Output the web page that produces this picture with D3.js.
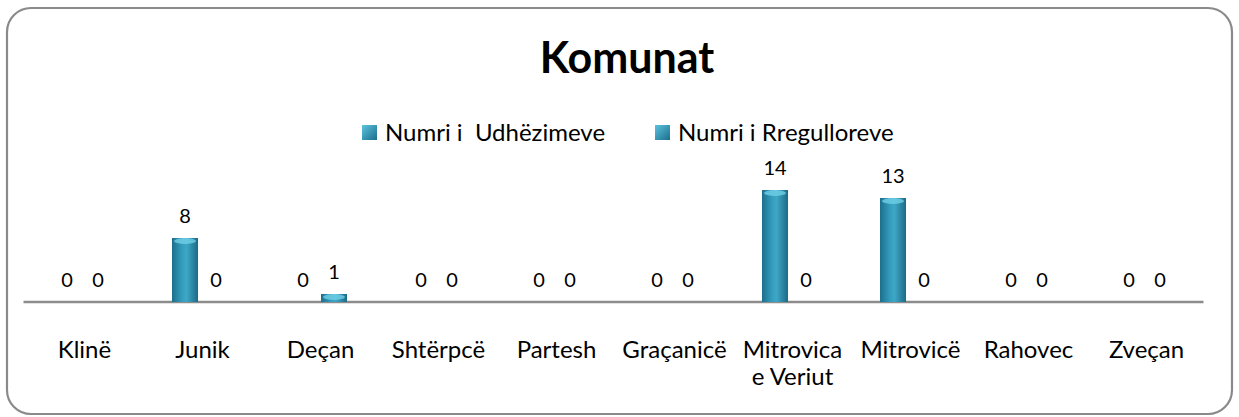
<!DOCTYPE html>
<html>
<head>
<meta charset="utf-8">
<script src="https://cdn.jsdelivr.net/npm/d3@7"></script>
<style>
  body { margin: 0; background: #fff; }
  svg text { font-family: Lato, "Open Sans", sans-serif; fill: #000; }
</style>
</head>
<body>
<div id="chart"></div>
<script>
// data
const categories = ["Klinë", "Junik", "Deçan", "Shtërpcë", "Partesh", "Graçanicë", "Mitrovica e Veriut", "Mitrovicë", "Rahovec", "Zveçan"];
const seriesNames = ["Numri i  Udhëzimeve", "Numri i Rregulloreve"];
const udhezimet = [0, 8, 0, 0, 0, 0, 14, 13, 0, 0];
const rregulloret = [0, 0, 1, 0, 0, 0, 0, 0, 0, 0];

const W = 1239, H = 417;
const margin = { top: 190, right: 35.5, bottom: 115, left: 23.5 };
const innerW = W - margin.left - margin.right;
const innerH = H - margin.top - margin.bottom;

const svg = d3.select("#chart").append("svg")
    .attr("width", W)
    .attr("height", H);

// gradient for the cylinder look
const defs = svg.append("defs");
const grad = defs.append("linearGradient").attr("id", "barGrad")
    .attr("x1", "0%").attr("x2", "100%").attr("y1", "0%").attr("y2", "0%");
grad.append("stop").attr("offset", "0%").attr("stop-color", "#1c6f8c");
grad.append("stop").attr("offset", "35%").attr("stop-color", "#3299ba");
grad.append("stop").attr("offset", "55%").attr("stop-color", "#3ea8c7");
grad.append("stop").attr("offset", "100%").attr("stop-color", "#1c6a86");

const legGrad = defs.append("linearGradient").attr("id", "legGrad")
    .attr("x1", "0%").attr("x2", "100%").attr("y1", "0%").attr("y2", "100%");
legGrad.append("stop").attr("offset", "0%").attr("stop-color", "#5cc3df");
legGrad.append("stop").attr("offset", "100%").attr("stop-color", "#1c6e8c");

// outer rounded frame
svg.append("rect")
    .attr("x", 7).attr("y", 8)
    .attr("width", 1225).attr("height", 406)
    .attr("rx", 24).attr("ry", 24)
    .attr("fill", "#fff")
    .attr("stroke", "#8a8a8a")
    .attr("stroke-width", 2.2);

// title
svg.append("text")
    .attr("x", 627).attr("y", 73)
    .attr("text-anchor", "middle")
    .style("font-size", "43px")
    .style("font-weight", "bold")
    .text("Komunat");

// legend
const legendX = [362, 655];
seriesNames.forEach((name, i) => {
    const lg = svg.append("g").attr("transform", `translate(${legendX[i]},125)`);
    lg.append("rect").attr("width", 15).attr("height", 15).attr("fill", "url(#legGrad)");
    lg.append("text").attr("x", 23).attr("y", 16)
        .style("font-size", "24px")
        .attr("xml:space", "preserve")
        .text(name);
});

const g = svg.append("g").attr("transform", `translate(${margin.left},${margin.top})`);

const x0 = d3.scaleBand().domain(categories).range([0, innerW]).padding(0);
const half = x0.bandwidth() / 2;
const x1 = d3.scaleBand().domain([0, 1]).range([half - 28.5, half + 28.5]).paddingInner(0.16);
const y = d3.scaleLinear().domain([0, 14]).range([innerH, innerH - 112]);

// axis line
g.append("line")
    .attr("x1", 0).attr("x2", innerW)
    .attr("y1", innerH).attr("y2", innerH)
    .attr("stroke", "#8c8c8c").attr("stroke-width", 2.5);

// category labels (wrap long ones)
const xAxis = g.append("g").attr("transform", `translate(0,${innerH})`);
categories.forEach(c => {
    const words = c === "Mitrovica e Veriut" ? ["Mitrovica", "e Veriut"] : [c];
    const cx = x0(c) + half + 2;
    const t = xAxis.append("text")
        .attr("text-anchor", "middle")
        .style("font-size", "24px")
        .attr("x", cx)
        .attr("y", 56);
    words.forEach((w, k) => {
        t.append("tspan")
            .attr("x", cx)
            .attr("dy", k === 0 ? 0 : 27)
            .text(w);
    });
});

const rows = categories.map((c, i) => ({ c, vals: [udhezimet[i], rregulloret[i]] }));

const groups = g.selectAll(".grp").data(rows).enter().append("g")
    .attr("class", "grp")
    .attr("transform", d => `translate(${x0(d.c)},0)`);

const cells = groups.selectAll(".cell")
    .data(d => d.vals.map((v, s) => ({ v, s })))
    .enter().append("g").attr("class", "cell");

const bw = x1.bandwidth();

cells.filter(d => d.v > 0).append("rect")
    .attr("x", d => x1(d.s))
    .attr("y", d => y(d.v))
    .attr("width", bw)
    .attr("height", d => innerH - y(d.v))
    .attr("fill", "url(#barGrad)");

// lighter top cap
cells.filter(d => d.v > 0).append("ellipse")
    .attr("cx", d => x1(d.s) + bw / 2)
    .attr("cy", d => y(d.v) + 3)
    .attr("rx", bw / 2 - 2)
    .attr("ry", 3)
    .attr("fill", "#6fd0e6")
    .attr("opacity", 0.8);

// value labels
cells.append("text")
    .attr("x", d => x1(d.s) + bw / 2)
    .attr("y", d => y(d.v) - 15)
    .attr("text-anchor", "middle")
    .style("font-size", "20px")
    .text(d => d.v);
</script>
</body>
</html>
